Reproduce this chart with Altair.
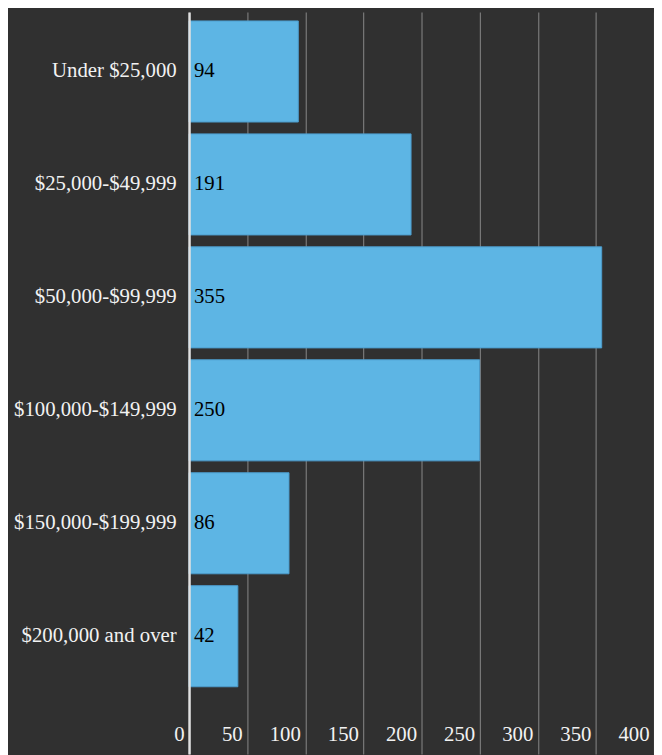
import altair as alt
import pandas as pd

categories = ["Under $25,000", "$25,000-$49,999", "$50,000-$99,999",
              "$100,000-$149,999", "$150,000-$199,999", "$200,000 and over"]
values = [94, 191, 355, 250, 86, 42]
x_ticks = [0, 50, 100, 150, 200, 250, 300, 350, 400]

df = pd.DataFrame({"category": categories, "value": values})

FONT = "Liberation Serif"

y_scale = alt.Scale(paddingInner=0.105, paddingOuter=0.337, align=0.117)

y_enc = alt.Y("category:N", sort=None, title=None, scale=y_scale,
              axis=alt.Axis(labelFont=FONT, labelFontSize=21, labelColor="#f2f2f2",
                            labelPadding=13, ticks=False, labelLimit=400,
                            domain=True, domainColor="#e0e0e0", domainWidth=2.5,
                            grid=False, zindex=2))
x_enc = alt.X("value:Q", title=None,
              scale=alt.Scale(domain=[0, 400], nice=False),
              axis=alt.Axis(values=x_ticks, labelFont=FONT, labelFontSize=21,
                            labelColor="#f2f2f2", labelAlign="right", labelOffset=-5,
                            labelBaseline="middle", labelPadding=-20, ticks=False,
                            domain=False, grid=True, gridColor="#7a7a7a", gridWidth=1.2))

bars = alt.Chart(df).mark_bar(color="#5db5e4", stroke="#4c9ccc", strokeWidth=1).encode(
    x=x_enc, y=y_enc)

labels = alt.Chart(df).mark_text(align="left", baseline="middle", dx=5,
                                 font=FONT, fontSize=21, color="#000000").encode(
    x=alt.datum(0), y=alt.Y("category:N", sort=None), text="value:Q")

chart = alt.layer(bars, labels).properties(
    width=470, height=750,
    background="#303030",
    autosize=alt.AutoSizeParams(type="none"),
    padding={"left": 183, "top": 0, "right": 0, "bottom": 0},
).configure_view(stroke=None)

chart.save("out.html", embed_options={"renderer": "svg", "actions": False})
